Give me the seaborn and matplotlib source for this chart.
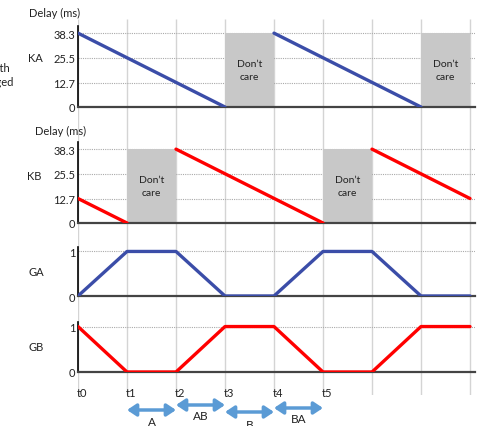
import numpy as np
import matplotlib
matplotlib.use('Agg')
import matplotlib.pyplot as plt
import matplotlib.transforms as mtransforms
import seaborn as sns

sns.set_style('white')
plt.rcParams['font.family'] = ['Lato', 'DejaVu Sans']

# time grid t0..t8
t = [0, 1, 2, 3, 4, 5, 6, 7, 8]
t_labels = ['t0', 't1', 't2', 't3', 't4', 't5']

delay_ticks = [0, 12.7, 25.5, 38.3]
gate_ticks = [0, 1]

# delay segments (x pairs, y pairs)
ka_segments = [([0, 3], [38.3, 0]), ([4, 7], [38.3, 0])]
kb_segments = [([0, 1], [12.7, 0]), ([2, 5], [38.3, 0]), ([6, 8], [38.3, 12.7])]
ka_dontcare = [(3, 4), (7, 8)]
kb_dontcare = [(1, 2), (5, 6)]

# gate signals
ga = [0, 1, 1, 0, 0, 1, 1, 0, 0]
gb = [1, 0, 0, 1, 1, 0, 0, 1, 1]

# phase arrows under the time axis
phases = ['A', 'AB', 'B', 'BA']
phase_start = [1, 2, 3, 4]
phase_end = [2, 3, 4, 5]

BLUE = '#3b4da8'
RED = '#ff0000'
ARROW = '#5b9bd5'
TXT = '#222222'
W, H = 484, 427

fig = plt.figure(figsize=(W / 100, H / 100), dpi=100)

def px_box(x0, y_top, x1, y_bot):
    return [x0 / W, 1 - y_bot / H, (x1 - x0) / W, (y_bot - y_top) / H]

def fig_text(x, y, s, **kw):
    # x, y in pixels from top-left
    fig.text(x / W, 1 - y / H, s, fontsize=kw.pop('fontsize', 8), color=TXT, **kw)

X0, X1 = 78, 475
xlim = (0, (X1 - X0) / 49)

# background vertical grid
ax_bg = fig.add_axes(px_box(X0, 20, X1, 396))
ax_bg.set_xlim(xlim)
ax_bg.set_ylim(0, 1)
ax_bg.vlines(t, 0, 1, color='#d4d4d4', lw=1)
ax_bg.axis('off')

def style_axis(ax, ticks, ylim):
    ax.set_facecolor('none')
    ax.set_xlim(xlim)
    ax.set_ylim(ylim)
    ax.set_yticks(ticks)
    ax.set_yticklabels([f'{v:g}' for v in ticks], fontsize=8, color=TXT)
    ax.tick_params(axis='y', length=0, pad=2)
    ax.set_xticks([])
    for v in ticks[1:]:
        ax.axhline(v, color='#aaaaaa', lw=0.8, ls=(0, (1, 1)), zorder=0)
    for s in ['top', 'right']:
        ax.spines[s].set_visible(False)
    ax.spines['left'].set_color('black')
    ax.spines['left'].set_linewidth(1.2)
    ax.spines['bottom'].set_color('#444444')
    ax.spines['bottom'].set_linewidth(1.6)

def delay_panel(ax, segments, dontcare, color):
    style_axis(ax, delay_ticks, (0, 42))
    for a, b in dontcare:
        ax.fill_between([a, b], 0, 38.3, color='#c8c8c8', lw=0, zorder=1)
        ax.text((a + b) / 2, 38.3 / 2, 'Don\u2019t\ncare', ha='center', va='center',
                fontsize=7.5, color=TXT, linespacing=1.6, zorder=2)
    for xs, ys in segments:
        sns.lineplot(x=xs, y=ys, color=color, lw=2.4, ax=ax, zorder=3)

ax1 = fig.add_axes(px_box(X0, 27, X1, 108))
delay_panel(ax1, ka_segments, ka_dontcare, BLUE)
fig_text(29, 13, 'Delay (ms)', ha='left', va='center')
fig_text(35, 59, 'KA', ha='center', va='center')

ax2 = fig.add_axes(px_box(X0, 143, X1, 224))
delay_panel(ax2, kb_segments, kb_dontcare, RED)
fig_text(35, 131, 'Delay (ms)', ha='left', va='center')
fig_text(34, 177, 'KB', ha='center', va='center')

def gate_panel(ax, values, color):
    style_axis(ax, gate_ticks, (0, 1.1))
    sns.lineplot(x=t, y=values, color=color, lw=2.4, ax=ax, zorder=3)

ax3 = fig.add_axes(px_box(X0, 248, X1, 297))
gate_panel(ax3, ga, BLUE)
fig_text(36, 273, 'GA', ha='center', va='center')

ax4 = fig.add_axes(px_box(X0, 323, X1, 373))
gate_panel(ax4, gb, RED)
fig_text(36, 348, 'GB', ha='center', va='center')

# clipped side label on the far left
fig_text(11, 68, 'with', ha='right', va='center')
fig_text(14, 82, 'changed', ha='right', va='center')

# time labels and phase arrows
blend = mtransforms.blended_transform_factory(ax4.transData, fig.transFigure)
for i, lab in enumerate(t_labels):
    ax4.text(t[i] - 0.02, 1 - 394 / H, lab, transform=blend, fontsize=8,
             color=TXT, ha='left', va='center')

arrow_y = [411, 406, 413, 409]
label_y = [423, 417, 426, 420]
for name, a, b, ay, ly in zip(phases, phase_start, phase_end, arrow_y, label_y):
    ax4.annotate('', xy=(b, 1 - ay / H), xytext=(a, 1 - ay / H),
                 xycoords=blend, textcoords=blend,
                 arrowprops=dict(arrowstyle='<|-|>,head_length=0.45,head_width=0.3',
                                 color=ARROW, lw=2.5, shrinkA=0, shrinkB=0,
                                 mutation_scale=12))
    ax4.text((a + b) / 2, 1 - ly / H, name, transform=blend, fontsize=8.5,
             color=TXT, ha='center', va='center')

fig.savefig('out.png', dpi=100)
